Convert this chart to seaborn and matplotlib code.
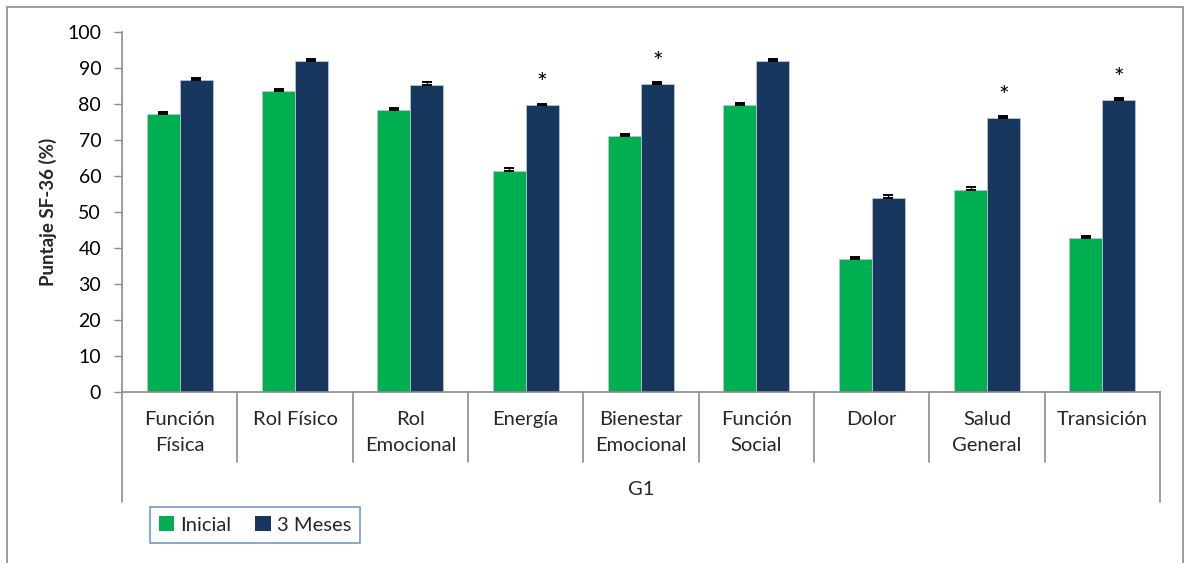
import matplotlib
matplotlib.use("Agg")
import matplotlib.pyplot as plt
from matplotlib.patches import Rectangle, Patch
from matplotlib.lines import Line2D
import seaborn as sns
import pandas as pd

# SF-36 domains, mean scores and standard errors for group G1
categories = ["Función\nFísica", "Rol Físico", "Rol\nEmocional", "Energía",
              "Bienestar\nEmocional", "Función\nSocial", "Dolor", "Salud\nGeneral",
              "Transición"]
inicial = [77.3, 83.6, 78.4, 61.5, 71.2, 79.6, 36.9, 56.1, 42.8]
meses3 = [86.8, 92.0, 85.4, 79.6, 85.6, 92.0, 53.9, 76.1, 81.2]
err_inicial = [0.6, 0.6, 0.6, 0.7, 0.5, 0.8, 0.6, 0.9, 0.6]
err_meses3 = [0.5, 0.5, 0.6, 0.5, 0.6, 0.5, 0.7, 0.6, 0.6]
significant = [False, False, False, True, True, False, False, True, True]
series_names = ["Inicial", "3 Meses"]
group_label = "G1"
y_ticks = list(range(0, 101, 10))

colors = {"Inicial": "#00B050", "3 Meses": "#17375E"}

df = pd.DataFrame({
    "Dominio": categories * 2,
    "Serie": [series_names[0]] * len(categories) + [series_names[1]] * len(categories),
    "Valor": inicial + meses3,
})

sns.set_theme(style="white")
plt.rcParams["font.family"] = ["Lato", "DejaVu Sans"]

fig = plt.figure(figsize=(11.84, 5.63), dpi=100)
ax = fig.add_axes([122 / 1184, 1 - 392 / 563, (1160 - 122) / 1184, (392 - 32) / 563])

sns.barplot(data=df, x="Dominio", y="Valor", hue="Serie", order=categories,
            hue_order=series_names, palette=colors, saturation=1, width=0.57,
            errorbar=None, edgecolor="#B9C4D4", linewidth=0.6, legend=False,
            ax=ax, zorder=2)

# error bars and significance marks centred on each drawn bar
n = len(categories)
bars = ax.patches
for i in range(n):
    for k, (vals, errs) in enumerate(((inicial, err_inicial), (meses3, err_meses3))):
        b = bars[k * n + i]
        xc = b.get_x() + b.get_width() / 2
        ax.errorbar(xc, vals[i], yerr=[[0], [errs[i]]], fmt="none", ecolor="black",
                    elinewidth=1.0, capsize=3.6, capthick=1.4, zorder=3)
        if k == 1 and significant[i]:
            ax.text(xc, vals[i] + 6.0, "*", ha="center", va="center",
                    fontsize=18, color="black")

ax.set_ylim(0, 100)
ax.set_xlim(-0.5, n - 0.5)
ax.set_yticks(y_ticks)
ax.tick_params(axis="y", which="major", left=True, length=6, width=1, color="#8C8C8C",
               labelsize=14, pad=9, labelcolor="black")
ax.set_xticks(range(n))
ax.set_xticklabels(categories, fontsize=14.5, linespacing=1.6, va="top")
ax.tick_params(axis="x", length=0, pad=14)
ax.set_xlabel("")
ax.set_ylabel("Puntaje SF-36 (%)", fontsize=13.5, fontweight="bold", labelpad=7)
for side in ("top", "right"):
    ax.spines[side].set_visible(False)
for side in ("left", "bottom"):
    ax.spines[side].set_color("#8C8C8C")
    ax.spines[side].set_linewidth(1.2)

# multi-level category axis separators
trans = ax.get_xaxis_transform()
inner_depth = -(462 - 392) / (392 - 32)
outer_depth = -(502 - 392) / (392 - 32)
for j in range(n + 1):
    depth = outer_depth if j in (0, n) else inner_depth
    ax.add_line(Line2D([j - 0.5, j - 0.5], [0, depth], transform=trans,
                       color="#8C8C8C", lw=1.2, clip_on=False))
ax.text((n - 1) / 2, -(490 - 392) / (392 - 32), group_label, transform=trans,
        ha="center", va="center", fontsize=14.5)

# legend in a blue-bordered box below the axis
handles = [Patch(facecolor=colors[s], edgecolor="none") for s in series_names]
leg = fig.legend(handles, series_names, loc="center", ncol=2,
                 bbox_to_anchor=(255 / 1184, 1 - 525 / 563), fontsize=14.5,
                 frameon=True, fancybox=False, handlelength=0.75, handleheight=0.75,
                 handletextpad=0.3, columnspacing=1.2, borderpad=0.45)
leg.get_frame().set_edgecolor("#4F81BD")
leg.get_frame().set_linewidth(1.2)

# chart area border
fig.patches.append(Rectangle((7 / 1184, -0.02), (1183 - 7) / 1184, 1 - 7 / 563 + 0.02,
                             transform=fig.transFigure, fill=False,
                             edgecolor="#8C8C8C", lw=1.2))

fig.savefig("out.png", dpi=100)
